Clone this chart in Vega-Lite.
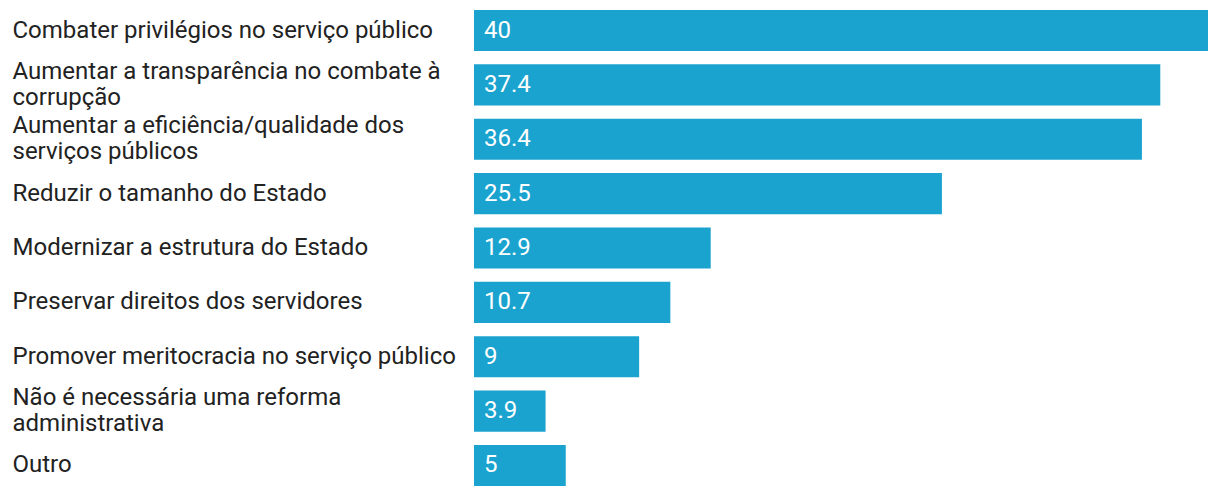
{
  "$schema": "https://vega.github.io/schema/vega-lite/v6.json",
  "width": 734,
  "height": 476,
  "padding": {"left": 12, "top": 10, "right": 12, "bottom": 12},
  "background": "white",
  "config": {"view": {"stroke": null}, "font": "Roboto"},
  "data": {
    "values": [
      {"label": "Combater privilégios no serviço público", "value": 40},
      {"label": "Aumentar a transparência no combate à|corrupção", "value": 37.4},
      {"label": "Aumentar a eficiência/qualidade dos|serviços públicos", "value": 36.4},
      {"label": "Reduzir o tamanho do Estado", "value": 25.5},
      {"label": "Modernizar a estrutura do Estado", "value": 12.9},
      {"label": "Preservar direitos dos servidores", "value": 10.7},
      {"label": "Promover meritocracia no serviço público", "value": 9},
      {"label": "Não é necessária uma reforma|administrativa", "value": 3.9},
      {"label": "Outro", "value": 5}
    ]
  },
  "encoding": {
    "y": {
      "field": "label",
      "type": "nominal",
      "sort": null,
      "scale": {"paddingInner": 0.245, "paddingOuter": 0},
      "axis": {
        "title": null,
        "domain": false,
        "ticks": false,
        "labelAlign": "left",
        "labelPadding": 462,
        "labelFontSize": 24,
        "labelColor": "#222222",
        "labelFont": "Roboto",
        "labelLimit": 460,
        "labelLineHeight": 26,
        "labelOffset": {"condition": {"test": "indexof(datum.value, '|') >= 0", "value": -13}, "value": 0},
        "labelExpr": "split(datum.value, '|')"
      }
    }
  },
  "layer": [
    {
      "mark": {"type": "bar", "color": "#1aa3cf"},
      "encoding": {
        "x": {"field": "value", "type": "quantitative", "scale": {"domain": [0, 40], "nice": false}, "axis": null}
      }
    },
    {
      "mark": {"type": "text", "align": "left", "baseline": "middle", "dx": 10, "fontSize": 24, "color": "white", "font": "Roboto"},
      "encoding": {
        "x": {"datum": 0, "type": "quantitative"},
        "text": {"field": "value", "type": "quantitative", "format": "~g"}
      }
    }
  ]
}
